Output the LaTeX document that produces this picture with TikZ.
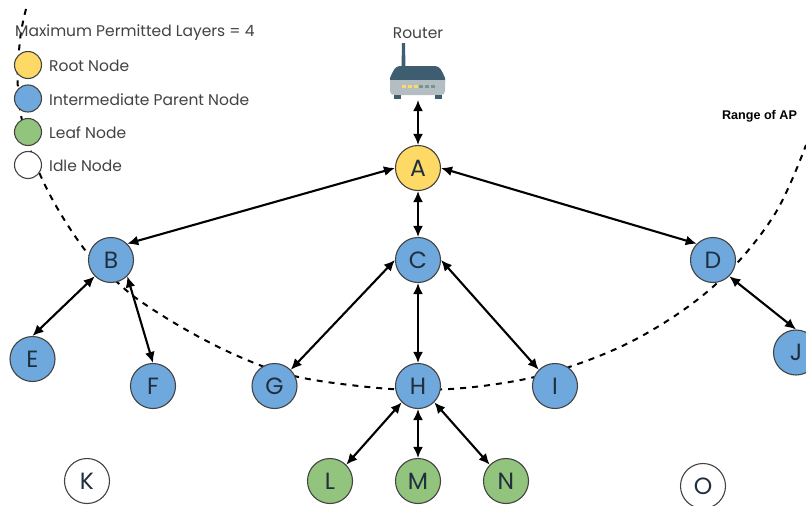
\documentclass[tikz,border=0pt]{standalone}
\usepackage{fontspec}
\setmainfont{Poppins}
\newfontfamily\rangefont{Liberation Sans}
\usetikzlibrary{arrows.meta}
\definecolor{rootfill}{HTML}{FFD966}
\definecolor{parentfill}{HTML}{6FA8DC}
\definecolor{leaffill}{HTML}{93C47D}
\definecolor{nodeline}{HTML}{434343}
\definecolor{lettercol}{HTML}{1F2F3F}
\definecolor{textcol}{HTML}{434343}
\definecolor{routerdark}{HTML}{3F5D70}
\definecolor{routerlight}{HTML}{B4BEC2}
\definecolor{routerled}{HTML}{6F9A8A}
\tikzset{
	meshnode/.style={circle,draw=nodeline,line width=1.1pt,minimum size=45pt,inner sep=0pt,text=lettercol,font=\fontsize{23.5}{24}\selectfont},
	rootnode/.style={meshnode,fill=rootfill},
	parentnode/.style={meshnode,fill=parentfill},
	leafnode/.style={meshnode,fill=leaffill},
	idlenode/.style={meshnode,fill=white},
	legendkey/.style={circle,draw=nodeline,line width=1.1pt,minimum size=27pt,inner sep=0pt},
	legendtext/.style={anchor=west,inner sep=0pt,text=textcol,font=\fontsize{15.5}{16}\selectfont},
	link/.style={{Latex[length=11pt,width=10pt]}-{Latex[length=11pt,width=10pt]},line width=2.1pt,black},
}
\begin{document}
\begin{tikzpicture}[x=1pt,y=-1pt]
	\clip (0,0) rectangle (806,506);
	\fill[white] (0,0) rectangle (806,506);

	% range of the access point
	\draw[line width=2pt,dash pattern=on 6pt off 6pt,black] plot[smooth,tension=.6] coordinates {
		(26,9) (20,40) (18,90) (27,140) (50,195) (85,250) (117,282) (143,303) (190,332)
		(240,357) (290,375) (350,385) (418,390) (490,385) (560,370) (640,337)
		(715,285) (773,217) (806,145)};

	% legend
	\node[legendtext] (title) at (15,32.5) {Maximum Permitted Layers = 4};
	\node[legendkey,fill=rootfill] (keyroot) at (28,65) {};
	\node[legendkey,fill=parentfill] (keyparent) at (28,98.5) {};
	\node[legendkey,fill=leaffill] (keyleaf) at (28,132) {};
	\node[legendkey,fill=white] (keyidle) at (28,165) {};
	\node[legendtext] (textroot) at (49,66) {Root Node};
	\node[legendtext] (textparent) at (49,99.5) {Intermediate Parent Node};
	\node[legendtext] (textleaf) at (49,133) {Leaf Node};
	\node[legendtext] (textidle) at (49,166) {Idle Node};

	\node[legendtext,anchor=center] (routertext) at (418,33) {Router};
	\node[anchor=center,inner sep=0pt,text=black,font=\rangefont\bfseries\fontsize{12.6}{13}\selectfont] (rangetext) at (759.5,116) {Range of AP};

	% router
	\fill[routerdark] (402,43) -- (405,43) -- (405.5,68) -- (401.5,68) -- cycle;
	\fill[routerdark] (390,81) -- (390,78) .. controls (393,71) and (395,66) .. (400,66) -- (435,66) .. controls (440,66) and (442,71) .. (445,78) -- (445,81) -- cycle;
	\fill[routerlight] (390,80) -- (445,80) -- (445,91) .. controls (445,94) and (443,95) .. (441,95) -- (394,95) .. controls (392,95) and (390,94) .. (390,91) -- cycle;
	\fill[routerdark] (394,95) rectangle (401,99);
	\fill[routerdark] (435,95) rectangle (442,99);
	\fill[rootfill] (402,85) rectangle (406,87.5);
	\fill[rootfill] (408,85) rectangle (412,87.5);
	\fill[rootfill] (414,85) rectangle (418,87.5);
	\fill[routerled] (419,85) rectangle (423,87.5);
	\fill[routerled] (425,85) rectangle (429,87.5);
	\fill[routerled] (431,85) rectangle (435,87.5);
	\coordinate (router) at (418,100);

	% mesh
	\node[rootnode] (A) at (418,168) {A};
	\node[parentnode] (B) at (111,260) {B};
	\node[parentnode] (C) at (418,260) {C};
	\node[parentnode] (D) at (713,260) {D};
	\node[parentnode] (E) at (32.5,359) {E};
	\node[parentnode] (F) at (153,386) {F};
	\node[parentnode] (G) at (274.5,386) {G};
	\node[parentnode] (H) at (418,386) {H};
	\node[parentnode] (I) at (555,386) {I};
	\node[parentnode] (J) at (796,352.5) {J};
	\node[idlenode] (K) at (87,481) {K};
	\node[leafnode] (L) at (330,481) {L};
	\node[leafnode] (M) at (418,481) {M};
	\node[leafnode] (N) at (506,481) {N};
	\node[idlenode] (O) at (703,486) {O};

	\draw[link] (router) -- (A.north);
	\draw[link] (A.west) -- (B.north east);
	\draw[link] (A.south) -- (C.north);
	\draw[link] (A.east) -- (D.north west);
	\draw[link] (B.south west) -- (E.north);
	\draw[link] (B.south east) -- (F.north);
	\draw[link] (C.west) -- (G.north east);
	\draw[link] (C.south) -- (H.north);
	\draw[link] (C.east) -- (I.north west);
	\draw[link] (D.south east) -- (J.north);
	\draw[link] (H.south west) -- (L.north east);
	\draw[link] (H.south) -- (M.north);
	\draw[link] (H.south east) -- (N.north west);
\end{tikzpicture}
\end{document}
